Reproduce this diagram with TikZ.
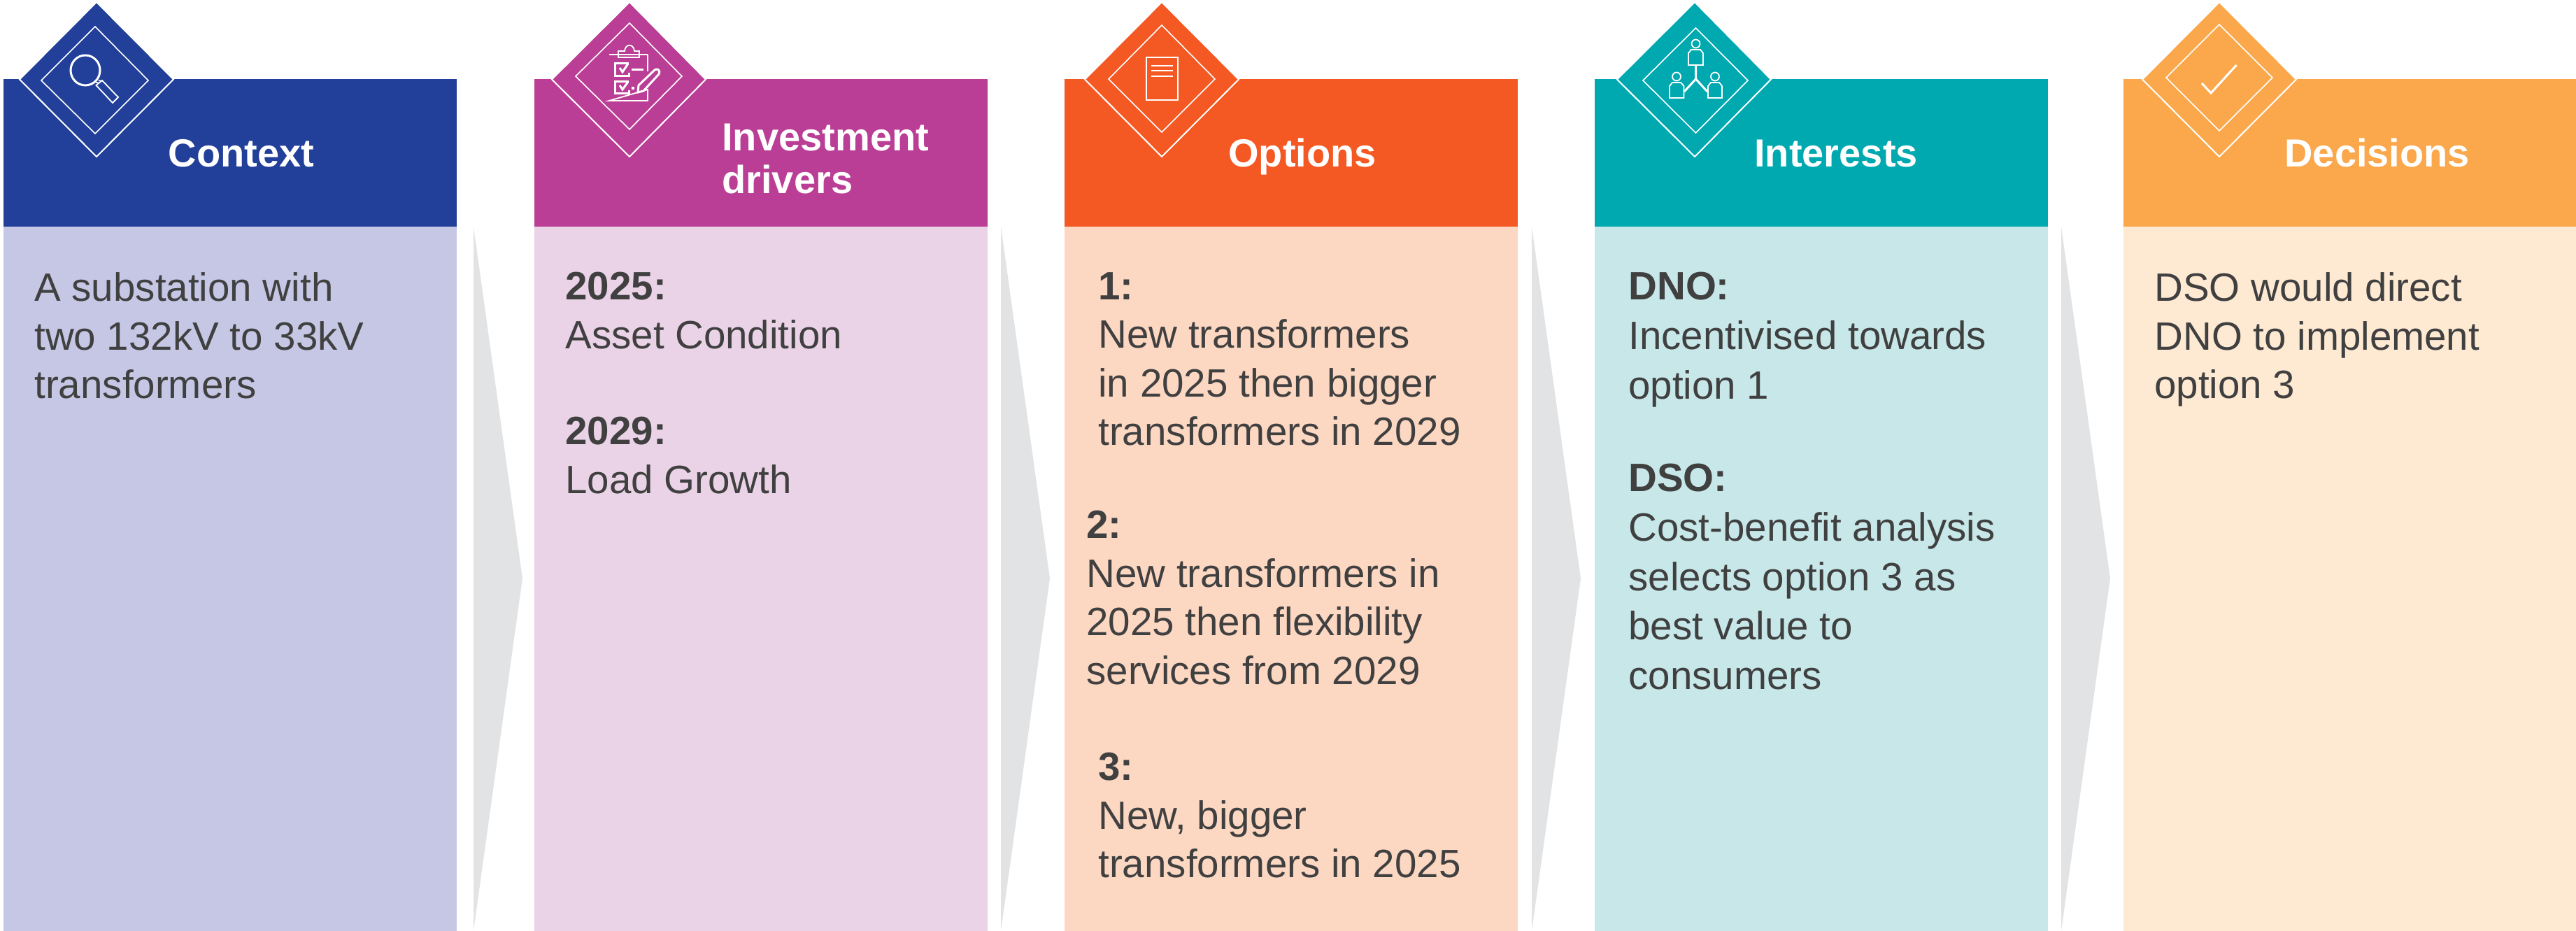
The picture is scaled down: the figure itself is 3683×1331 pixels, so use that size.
\documentclass[tikz,border=0pt]{standalone}
\usepackage{fontspec}
\setmainfont{Liberation Sans}
\definecolor{cnavy}{HTML}{224099}
\definecolor{lnavy}{HTML}{C5C7E5}
\definecolor{cmag}{HTML}{BA3E95}
\definecolor{lmag}{HTML}{EAD3E7}
\definecolor{corg}{HTML}{F45823}
\definecolor{lorg}{HTML}{FCD7C2}
\definecolor{cteal}{HTML}{00A9B0}
\definecolor{lteal}{HTML}{C7E7E9}
\definecolor{camb}{HTML}{FBA74B}
\definecolor{lamb}{HTML}{FEE9D3}
\definecolor{cgrey}{HTML}{E1E3E5}
\definecolor{ctext}{HTML}{404040}
\tikzset{
  hdrtext/.style={anchor=base west,inner sep=0pt,text=white,align=left,font=\fontsize{28}{30.5}\selectfont\bfseries},
  bodytext/.style={anchor=north west,inner sep=0pt,text=ctext,align=left,font=\fontsize{28.25}{34.7}\selectfont},
  widebody/.style={bodytext,font=\fontsize{28.25}{35.3}\selectfont},
  chevron/.style={fill=cgrey},
  outerdia/.style={line width=1pt,draw=white,line join=miter},
  innerdia/.style={line width=0.8pt,draw=white,line join=miter},
  icon/.style={draw=white,line width=0.9pt,line join=miter},
  iconthick/.style={draw=white,line width=1.5pt},
}
\begin{document}
\begin{tikzpicture}[x=0.5pt,y=-0.5pt]
\useasboundingbox (0,0) rectangle (3683,1331);
% chevrons
\fill[chevron] (677,324) -- (747,827) -- (677,1331) -- cycle;
\fill[chevron] (1431,324) -- (1501,827) -- (1431,1331) -- cycle;
\fill[chevron] (2190,324) -- (2260,827) -- (2190,1331) -- cycle;
\fill[chevron] (2947,324) -- (3017,827) -- (2947,1331) -- cycle;
% panels
\fill[lnavy] (5,324) rectangle (653,1331);
\fill[cnavy] (5,113) rectangle (653,324);
\fill[lmag] (764,324) rectangle (1412,1331);
\fill[cmag] (764,113) rectangle (1412,324);
\fill[lorg] (1522,324) rectangle (2170,1331);
\fill[corg] (1522,113) rectangle (2170,324);
\fill[lteal] (2280,324) rectangle (2928,1331);
\fill[cteal] (2280,113) rectangle (2928,324);
\fill[lamb] (3036,324) rectangle (3683,1331);
\fill[camb] (3036,113) rectangle (3683,324);
% diamonds
\path[outerdia,fill=cnavy] (138,3) -- (248,113.5) -- (138,224) -- (28,113.5) -- cycle;
\path[innerdia] (136,38) -- (212,115) -- (136,191) -- (59,115) -- cycle;
\path[outerdia,fill=cmag] (900,3) -- (1009,113.5) -- (900,224) -- (789,113.5) -- cycle;
\path[innerdia] (900,33) -- (975,109) -- (900,185) -- (823,109) -- cycle;
\path[outerdia,fill=corg] (1661,3) -- (1771,113.5) -- (1661,224) -- (1551,113.5) -- cycle;
\path[innerdia] (1661,36) -- (1737,113) -- (1661,189) -- (1585,113) -- cycle;
\path[outerdia,fill=cteal] (2423,3) -- (2532,113.5) -- (2423,224) -- (2312,113.5) -- cycle;
\path[innerdia] (2424.5,40) -- (2499,115) -- (2424.5,190) -- (2349,115) -- cycle;
\path[outerdia,fill=camb] (3173,3) -- (3283,113.5) -- (3173,224) -- (3063,113.5) -- cycle;
\path[innerdia] (3173,35) -- (3249,111) -- (3173,187) -- (3097,111) -- cycle;
% magnifier
\draw[iconthick] (122,100.5) ellipse [x radius=21,y radius=21.5];
\draw[icon] (137.5,122) -- (146,115) -- (169,139) -- (161,147) -- cycle;
\draw[icon] (136,117) -- (141,119) (141,115) -- (145,116);
% clipboard
\draw[icon] (871,78) -- (926,78) (926,78) -- (926,102) (926,128) -- (926,144) -- (871,144) -- cycle;
\draw[icon] (884,73) -- (893,73) .. controls (894,62) and (906,62) .. (907,73) -- (914,73) -- (914,82) -- (884,82) -- cycle;
\draw[iconthick] (899,91) -- (879,91) -- (879,109) -- (899,109) -- (899,104);
\draw[iconthick] (899,117) -- (879,117) -- (879,134) -- (899,134) -- (899,129);
\draw[iconthick] (886,97) -- (890,103) -- (898,91);
\draw[iconthick] (886,122) -- (890,128) -- (898,117);
\draw[iconthick] (903,100) -- (920,100);
\fill[white] (903,124) rectangle (907,128);
\draw[iconthick] (912,132) -- (913,122) -- (936,100) .. controls (940,97) and (945,101) .. (942,106) -- (920,130) -- cycle;
% document
\draw[iconthick,line width=1.1pt] (1639,82) rectangle (1684,143);
\draw[icon] (1646,94) -- (1677,94);
\draw[icon] (1646,101) -- (1677,101);
\draw[icon] (1646,109) -- (1677,109);
% people
\draw[icon] (2424.5,62.5) ellipse [x radius=6,y radius=6];
\draw[icon] (2414,93) -- (2414,76) -- (2418,71) -- (2431,71) -- (2435,76) -- (2435,93) -- cycle;
\draw[icon] (2397,109.5) ellipse [x radius=6,y radius=6];
\draw[icon] (2387,140) -- (2387,123) -- (2391,118) -- (2403,118) -- (2407.5,123) -- (2407.5,140) -- cycle;
\draw[icon] (2452,109.5) ellipse [x radius=6,y radius=6];
\draw[icon] (2442,140) -- (2442,123) -- (2446,118) -- (2458,118) -- (2462,123) -- (2462,140) -- cycle;
\draw[iconthick] (2424.5,93) -- (2424.5,113) -- (2408,131);
\draw[iconthick] (2424.5,113) -- (2441,131);
% check
\draw[iconthick] (3148,119) -- (3161,133) -- (3197.5,93);
% headings
\node[hdrtext] (h1) at (240.5,238.5) {Context};
\node[hdrtext] (h2) at (1032,277) {Investment\\drivers};
\node[hdrtext] (h3) at (1756,238.5) {Options};
\node[hdrtext] (h4) at (2508,238.5) {Interests};
\node[hdrtext] (h5) at (3266,238.5) {Decisions};
% body
\node[bodytext] (b1) at (49,389.5) {A substation with\\two 132kV to 33kV\\transformers};
\node[bodytext] (b2a) at (808,389) {\textbf{2025:}\\Asset Condition};
\node[bodytext] (b2b) at (808,596) {\textbf{2029:}\\Load Growth};
\node[bodytext] (b3a) at (1570,389) {\textbf{1:}\\New transformers\\in 2025 then bigger\\transformers in 2029};
\node[bodytext] (b3b) at (1553,730) {\textbf{2:}\\New transformers in\\2025 then flexibility\\services from 2029};
\node[bodytext] (b3c) at (1570,1076) {\textbf{3:}\\New, bigger\\transformers in 2025};
\node[widebody] (b4a) at (2328,389) {\textbf{DNO:}\\Incentivised towards\\option 1};
\node[widebody] (b4b) at (2328,663) {\textbf{DSO:}\\Cost-benefit analysis\\selects option 3 as\\best value to\\consumers};
\node[bodytext] (b5) at (3080,389.5) {DSO would direct\\DNO to implement\\option 3};
\end{tikzpicture}
\end{document}
